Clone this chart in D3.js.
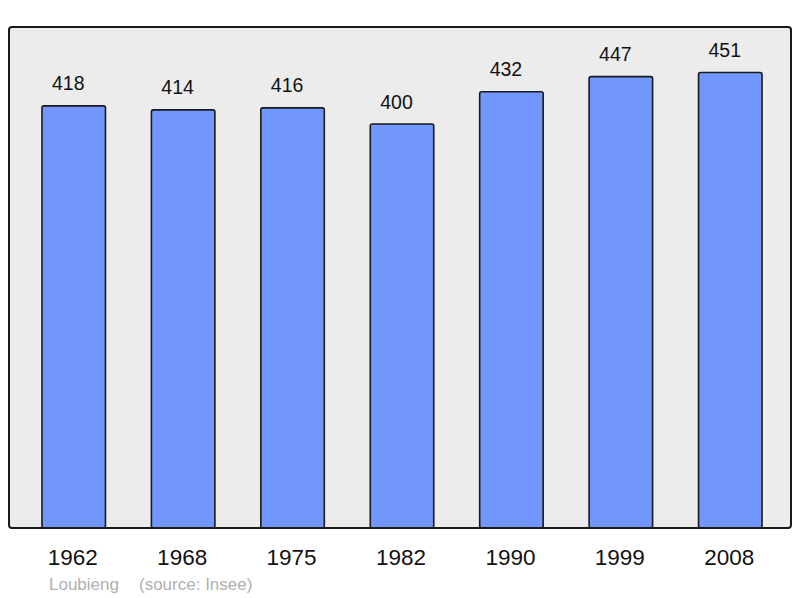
<!DOCTYPE html>
<html>
<head>
<meta charset="utf-8">
<script src="https://cdn.jsdelivr.net/npm/d3@7"></script>
<style>
  body { margin: 0; background: #fff; }
  text { font-family: "Liberation Sans", Arial, sans-serif; }
</style>
</head>
<body>
<script>
const years = ["1962", "1968", "1975", "1982", "1990", "1999", "2008"];
const population = [418, 414, 416, 400, 432, 447, 451];
const place = "Loubieng";
const source = "(source: Insee)";

const width = 800, height = 598;
const frame = {left: 9, top: 27, right: 791, bottom: 528};

const svg = d3.select('body').append('svg')
    .attr('width', width)
    .attr('height', height);

// plot background
svg.append('rect')
    .attr('x', frame.left)
    .attr('y', frame.top)
    .attr('width', frame.right - frame.left)
    .attr('height', frame.bottom - frame.top)
    .attr('rx', 3)
    .attr('fill', '#ececec');

const x = d3.scaleBand()
    .domain(years)
    .range([19, 785])
    .paddingInner(0.42)
    .paddingOuter(0.21);

const y = d3.scaleLinear()
    .domain([0, d3.max(population) * 1.1])
    .range([frame.bottom, frame.top]);

const rows = years.map((yr, i) => ({year: yr, value: population[i]}));

svg.append('g')
    .selectAll('rect')
    .data(rows)
    .enter()
    .append('rect')
    .attr('x', d => x(d.year))
    .attr('y', d => y(d.value))
    .attr('width', x.bandwidth())
    .attr('height', d => y(0) - y(d.value))
    .attr('rx', 2)
    .attr('fill', '#7197ff')
    .attr('stroke', '#1a1a1a')
    .attr('stroke-width', 1.6);

// value labels sit a little left of the bar centre in the original
svg.append('g')
    .selectAll('text')
    .data(rows)
    .enter()
    .append('text')
    .attr('x', d => x(d.year) + x.bandwidth() / 2 - 5.5)
    .attr('y', d => y(d.value) - 15.5)
    .attr('text-anchor', 'middle')
    .attr('font-size', 19.5)
    .attr('fill', '#111')
    .text(d => d.value);

// frame on top of the bars' bottoms
svg.append('rect')
    .attr('x', frame.left)
    .attr('y', frame.top)
    .attr('width', frame.right - frame.left)
    .attr('height', frame.bottom - frame.top)
    .attr('rx', 3)
    .attr('fill', 'none')
    .attr('stroke', '#1a1a1a')
    .attr('stroke-width', 2);

const xAxis = d3.axisBottom(x).tickSize(0).tickPadding(0);
const xAxisGroup = svg.append('g')
    .attr('class', 'axis x-axis')
    .attr('transform', `translate(0, ${frame.bottom})`)
    .call(xAxis);
xAxisGroup.select('.domain').remove();
xAxisGroup.selectAll('text')
    .attr('dy', null)
    .attr('y', 37)
    .attr('x', -1)
    .attr('font-size', 22.5)
    .attr('font-family', '"Liberation Sans", Arial, sans-serif')
    .attr('fill', '#111');

svg.append('text')
    .attr('x', 49)
    .attr('y', 590)
    .attr('font-size', 17)
    .attr('fill', '#b0b0b0')
    .text(place);

svg.append('text')
    .attr('x', 139)
    .attr('y', 590)
    .attr('font-size', 17)
    .attr('fill', '#b0b0b0')
    .text(source);
</script>
</body>
</html>
